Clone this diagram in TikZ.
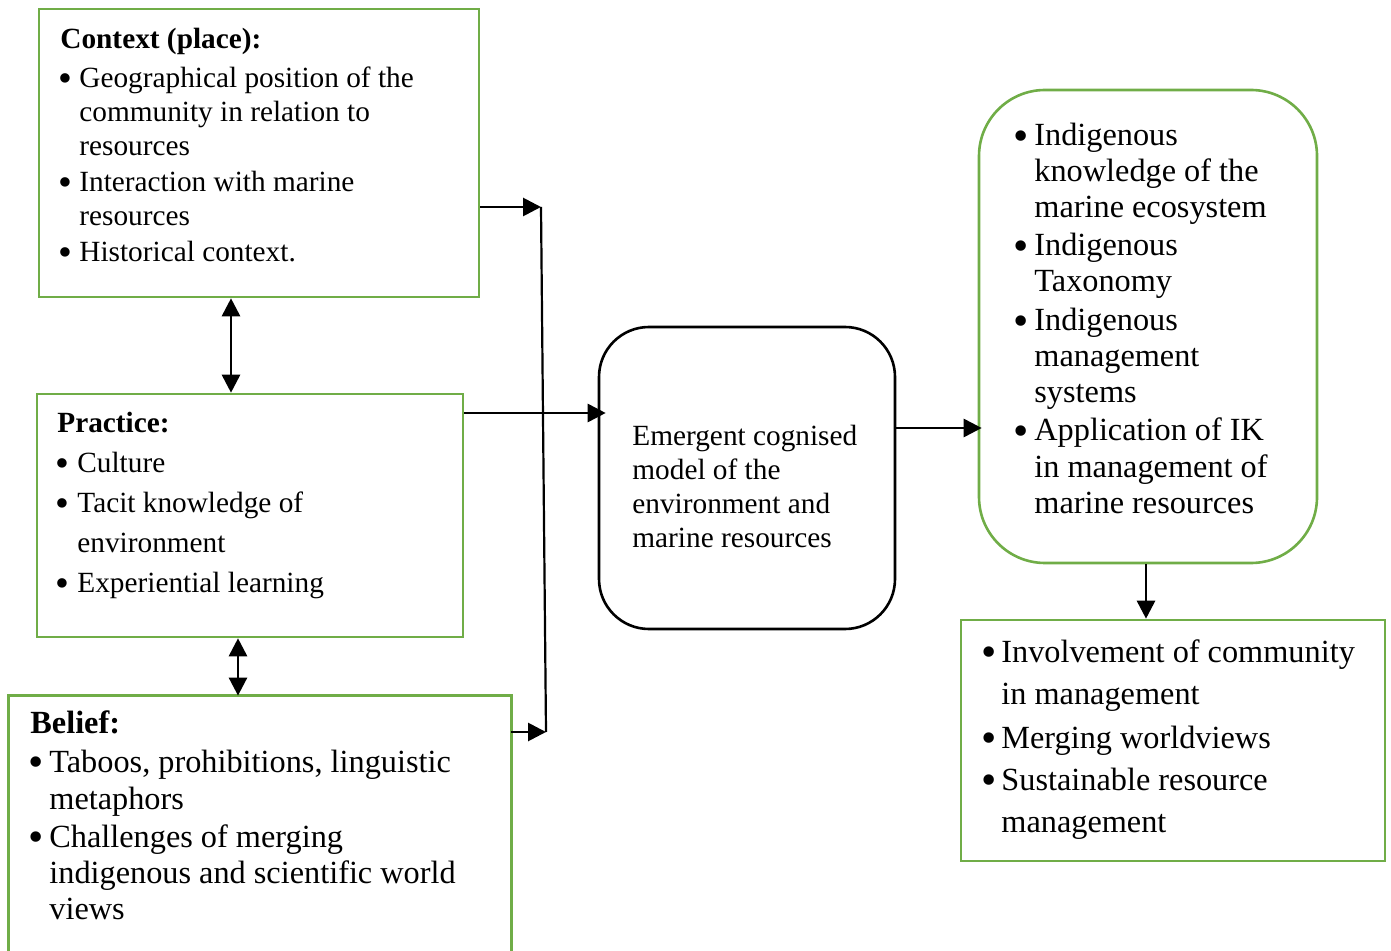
\documentclass[tikz,border=0pt]{standalone}
\usepackage{fontspec}
\usepackage{graphicx}
\setmainfont{Liberation Serif}
\usetikzlibrary{arrows.meta,fit}
\definecolor{boxgreen}{HTML}{70AD47}
\newcommand{\bl}[1]{\makebox[#1][l]{\kern-0.05em\raisebox{-0.13em}{\scalebox{1.35}{\textbullet}}}}
\newcommand{\ind}[1]{\hspace*{#1}}
\begin{document}
\begin{tikzpicture}[x=0.5pt,y=-0.5pt,
  gbox/.style={draw=boxgreen,line width=1.3pt,inner sep=0pt},
  rbox/.style={draw=black,line width=1.3pt,inner sep=0pt},
  tip/.tip={Triangle[length=9pt,width=9pt]},
  arr/.style={line width=1.4pt,-tip},
  dbl/.style={line width=1.4pt,tip-tip},
  txt/.style={anchor=base west,inner sep=0pt}]
\useasboundingbox (0,0) rectangle (1391,951);

% boxes
\node[gbox, fit={(39,9) (479,297)}] (ctx) {};
\node[gbox, fit={(37,394) (463,637)}] (prac) {};
\node[inner sep=0pt, fit={(9,696) (511,951)}] (bel) {};
\draw[draw=boxgreen,line width=1.3pt] ([yshift=-6pt]bel.south west) -- (bel.north west) -- (bel.north east) -- ([yshift=-6pt]bel.south east);
\node[rbox, rounded corners=25pt, fit={(599,327) (895,629)}] (cm) {};
\node[gbox, rounded corners=33pt, fit={(979,90) (1317,563)}] (rt) {};
\node[gbox, fit={(961,620) (1385,861)}] (br) {};

% texts
\node[txt] (ctxtext) at (60,49) {\fontsize{14.65pt}{17pt}\selectfont
\begin{tabular}[t]{@{}l@{}}
\textbf{Context (place):}\\[2.5pt]
\bl{9.5pt}Geographical position of the\\
\ind{9.5pt}community in relation to\\
\ind{9.5pt}resources\\[1pt]
\bl{9.5pt}Interaction with marine\\
\ind{9.5pt}resources\\[1pt]
\bl{9.5pt}Historical context.
\end{tabular}};

\node[txt] (practext) at (57,433) {\fontsize{14.65pt}{20pt}\selectfont
\begin{tabular}[t]{@{}l@{}}
\textbf{Practice:}\\
\bl{10pt}Culture\\
\bl{10pt}Tacit knowledge of\\
\ind{10pt}environment\\
\bl{10pt}Experiential learning
\end{tabular}};

\node[txt] (beltext) at (30,733) {\fontsize{16.15pt}{18pt}\selectfont
\begin{tabular}[t]{@{}l@{}}
\textbf{Belief:}\\[1.5pt]
\bl{9.5pt}Taboos, prohibitions, linguistic\\[0.5pt]
\ind{9.5pt}metaphors\\[1pt]
\bl{9.5pt}Challenges of merging\\
\ind{9.5pt}indigenous and scientific world\\
\ind{9.5pt}views
\end{tabular}};

\node[txt] (cmtext) at (632,446) {\fontsize{14.65pt}{16.85pt}\selectfont
\begin{tabular}[t]{@{}l@{}}
Emergent cognised\\
model of the\\
environment and\\
marine resources
\end{tabular}};

\node[txt] (rttext) at (1015,146) {\fontsize{16.15pt}{18pt}\selectfont
\begin{tabular}[t]{@{}l@{}}
\bl{9.5pt}Indigenous\\
\ind{9.5pt}knowledge of the\\
\ind{9.5pt}marine ecosystem\\[1pt]
\bl{9.5pt}Indigenous\\
\ind{9.5pt}Taxonomy\\[1.5pt]
\bl{9.5pt}Indigenous\\
\ind{9.5pt}management\\
\ind{9.5pt}systems\\[1pt]
\bl{9.5pt}Application of IK\\[0.5pt]
\ind{9.5pt}in management of\\
\ind{9.5pt}marine resources
\end{tabular}};

\node[txt] (brtext) at (983,662) {\fontsize{16.15pt}{21pt}\selectfont
\begin{tabular}[t]{@{}l@{}}
\bl{9pt}Involvement of community\\
\ind{9pt}in management\\[1pt]
\bl{9pt}Merging worldviews\\
\bl{9pt}Sustainable resource\\
\ind{9pt}management
\end{tabular}};

% connectors
\coordinate (j1) at (541,207);
\coordinate (j2) at (546,732);
\coordinate (yp) at (0,413);
\coordinate (yc) at (0,428);
\coordinate (xa) at (231,0);
\coordinate (xb) at (238,0);
\coordinate (xc) at (1146,0);
\draw[arr] (ctx.east |- j1) -- (j1);
\draw[line width=1.1pt] (j1) -- (j2);
\draw[arr] (bel.east |- j2) -- (j2);
\draw[arr, shorten >=-4pt] (prac.east |- yp) -- (cm.west |- yp);
\draw[arr, shorten >=-2pt] (cm.east |- yc) -- (rt.west |- yc);
\draw[dbl] (ctx.south -| xa) -- (prac.north -| xa);
\draw[dbl] (prac.south -| xb) -- (bel.north -| xb);
\draw[arr] (rt.south -| xc) -- (br.north -| xc);
\end{tikzpicture}
\end{document}
